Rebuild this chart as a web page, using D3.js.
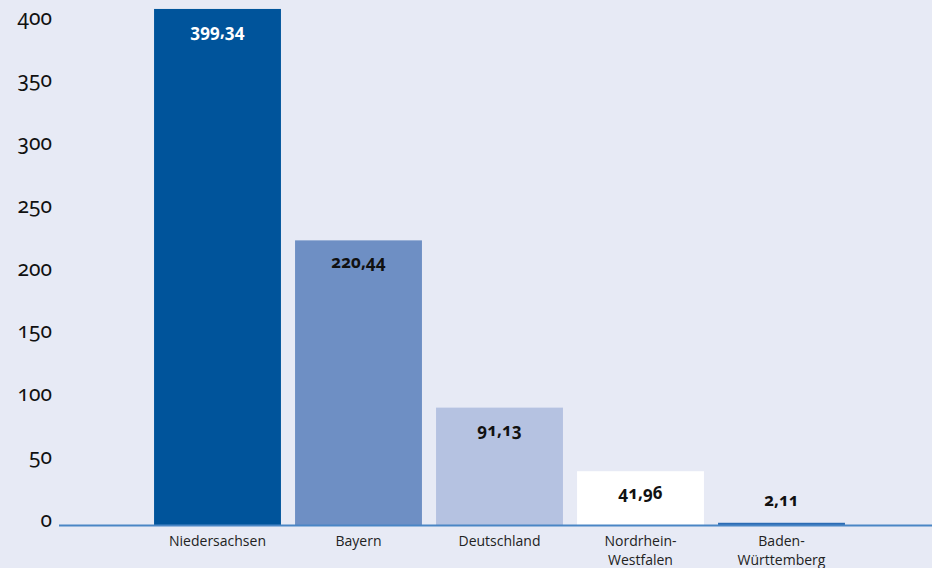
<!DOCTYPE html>
<html>
<head>
<meta charset="utf-8">
<script src="https://cdn.jsdelivr.net/npm/d3@7"></script>
<style>
  body { margin: 0; background: #e7eaf5; }
  svg { display: block; }
  .tick-label { font-family: "Noto Sans", sans-serif; font-size: 21px; fill: #111; font-variant-numeric: oldstyle-nums; }
  .cat-label { font-family: "Open Sans", sans-serif; font-size: 14px; fill: #222; }
  .val-label { font-family: "Noto Sans", sans-serif; font-size: 17px; font-weight: bold; font-variant-numeric: oldstyle-nums; }
</style>
</head>
<body>
<script>
// Daten
var categories = [["Niedersachsen"], ["Bayern"], ["Deutschland"], ["Nordrhein-", "Westfalen"], ["Baden-", "Württemberg"]];
var values = [399.34, 220.44, 91.13, 41.96, 2.11];
var valueLabels = ["399,34", "220,44", "91,13", "41,96", "2,11"];
var tickValues = [0, 50, 100, 150, 200, 250, 300, 350, 400];

var barColors = ["#00549b", "#6e8fc4", "#b5c2e1", "#ffffff", "#2c6cb4"];
var labelColors = ["#ffffff", "#111", "#111", "#111", "#111"];

var width = 932, height = 568;

var svg = d3.select("body").append("svg")
    .attr("width", width)
    .attr("height", height);

svg.append("rect")
    .attr("width", width)
    .attr("height", height)
    .attr("fill", "#e7eaf5");

// X Skala
var xScale = d3.scaleBand()
    .domain(d3.range(values.length))
    .range([147, 852])
    .paddingInner(0.1)
    .paddingOuter(0.05);

// Y Skala (Balken)
var yScale = d3.scaleLinear()
    .domain([0, 400])
    .range([525.5, 8.1]);

// Y Skala für die Achsenbeschriftung (Beschriftung sitzt etwas anders als die Balken)
var yLabel = d3.scaleLinear()
    .domain([0, 400])
    .range([520, 18]);

// Achsenbeschriftung links
svg.append("g")
    .selectAll("text")
    .data(tickValues)
    .enter()
    .append("text")
    .classed("tick-label", true)
    .attr("x", 52)
    .attr("y", d => yLabel(d))
    .attr("dy", "0.32em")
    .attr("text-anchor", "end")
    .text(d => d);

// Balken
svg.append("g")
    .selectAll("rect")
    .data(values)
    .enter()
    .append("rect")
    .attr("x", (d, i) => xScale(i))
    .attr("y", d => yScale(d))
    .attr("width", xScale.bandwidth())
    .attr("height", d => yScale(0) - yScale(d))
    .attr("fill", (d, i) => barColors[i]);

// Grundlinie
svg.append("line")
    .attr("x1", 59)
    .attr("x2", width)
    .attr("y1", yScale(0))
    .attr("y2", yScale(0))
    .attr("stroke", "#4a86c5")
    .attr("stroke-width", 2);

// Werte an den Balken
svg.append("g")
    .selectAll("text")
    .data(values)
    .enter()
    .append("text")
    .classed("val-label", true)
    .attr("x", (d, i) => xScale(i) + xScale.bandwidth() / 2)
    .attr("y", d => (yScale(0) - yScale(d) > 40) ? yScale(d) + 22 : yScale(d) - 23)
    .attr("dy", "0.35em")
    .attr("text-anchor", "middle")
    .attr("fill", (d, i) => labelColors[i])
    .text((d, i) => valueLabels[i]);

// Kategorien
var cat = svg.append("g")
    .selectAll("text")
    .data(categories)
    .enter()
    .append("text")
    .classed("cat-label", true)
    .attr("x", (d, i) => xScale(i) + xScale.bandwidth() / 2)
    .attr("y", 546)
    .attr("text-anchor", "middle");

cat.selectAll("tspan")
    .data(d => d)
    .enter()
    .append("tspan")
    .attr("x", function() { return d3.select(this.parentNode).attr("x"); })
    .attr("dy", (d, i) => i === 0 ? 0 : 19)
    .text(d => d);
</script>
</body>
</html>
